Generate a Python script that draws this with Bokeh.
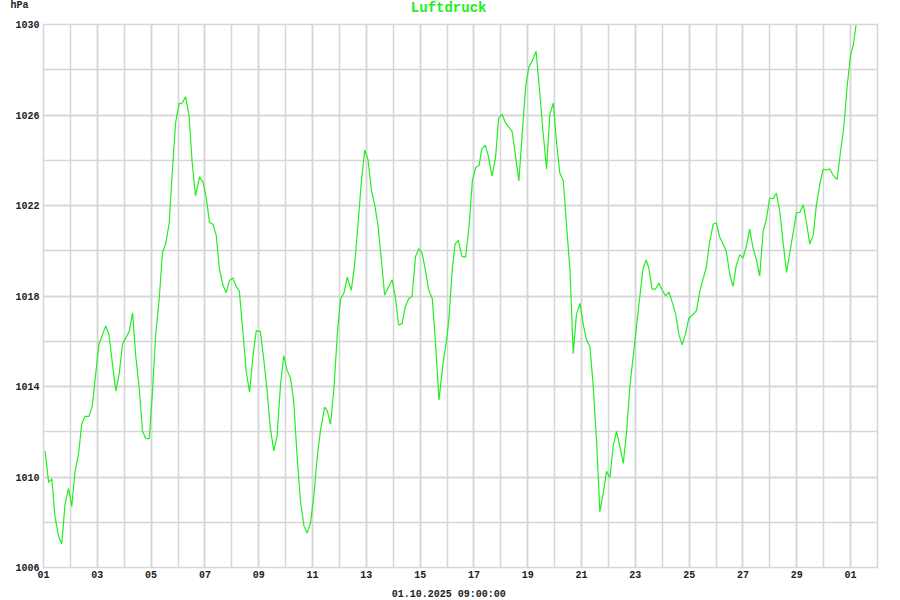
from bokeh.plotting import figure
from bokeh.models import FixedTicker, Label
from bokeh.embed import file_html
from bokeh.resources import INLINE

# time in days since 01.09.2025 00:00, air pressure in hPa
days = [0.06, 0.19, 0.31, 0.43, 0.56, 0.68, 0.80, 0.93, 1.05, 1.17, 1.30, 1.42, 1.54, 1.69, 1.81, 1.94,
        2.06, 2.19, 2.31, 2.43, 2.56, 2.69, 2.81, 2.94, 3.06, 3.19, 3.31, 3.43, 3.56, 3.68, 3.80, 3.93,
        4.05, 4.17, 4.30, 4.42, 4.54, 4.67, 4.79, 4.91, 5.04, 5.16, 5.28, 5.41, 5.53, 5.65, 5.80, 5.93,
        6.05, 6.17, 6.30, 6.42, 6.54, 6.67, 6.79, 6.91, 7.04, 7.16, 7.28, 7.42, 7.54, 7.66, 7.79, 7.91,
        8.06, 8.19, 8.31, 8.43, 8.56, 8.68, 8.81, 8.93, 9.06, 9.18, 9.30, 9.43, 9.55, 9.68, 9.80, 9.93,
        10.05, 10.17, 10.30, 10.45, 10.55, 10.67, 10.80, 10.92, 11.04, 11.17, 11.29, 11.44, 11.57, 11.69,
        11.81, 11.94, 12.06, 12.19, 12.31, 12.43, 12.56, 12.68, 12.81, 12.96, 13.08, 13.20, 13.33, 13.45,
        13.58, 13.70, 13.83, 13.95, 14.07, 14.20, 14.32, 14.45, 14.57, 14.70, 14.85, 14.98, 15.07, 15.20,
        15.30, 15.42, 15.55, 15.69, 15.82, 15.94, 16.07, 16.19, 16.29, 16.42, 16.54, 16.67, 16.80, 16.92,
        17.05, 17.17, 17.30, 17.42, 17.54, 17.67, 17.79, 17.92, 18.04, 18.16, 18.31, 18.44, 18.56, 18.70,
        18.82, 18.95, 19.07, 19.19, 19.32, 19.44, 19.57, 19.69, 19.81, 19.94, 20.06, 20.19, 20.31, 20.43,
        20.56, 20.68, 20.81, 20.93, 21.05, 21.18, 21.30, 21.43, 21.55, 21.67, 21.80, 21.92, 22.05, 22.17,
        22.28, 22.40, 22.50, 22.62, 22.74, 22.88, 23.00, 23.12, 23.25, 23.37, 23.50, 23.62, 23.74, 23.87,
        23.99, 24.12, 24.27, 24.39, 24.51, 24.64, 24.76, 24.89, 25.01, 25.13, 25.26, 25.38, 25.51, 25.63,
        25.75, 25.88, 26.00, 26.13, 26.25, 26.37, 26.50, 26.62, 26.75, 26.87, 26.99, 27.12, 27.24, 27.37,
        27.49, 27.62, 27.74, 27.86, 27.99, 28.11, 28.24, 28.36, 28.48, 28.61, 28.73, 28.86, 28.98, 29.10,
        29.23, 29.35, 29.50, 29.62, 29.75, 29.87, 30.00, 30.10, 30.20]
hpa = [1011.15, 1009.76, 1009.92, 1008.23, 1007.37, 1007.05, 1008.79, 1009.50, 1008.70, 1010.20, 1011.00,
       1012.33, 1012.68, 1012.68, 1013.12, 1014.54, 1015.88, 1016.28, 1016.67, 1016.31, 1015.02, 1013.79,
       1014.54, 1015.88, 1016.15, 1016.44, 1017.26, 1015.33, 1013.91, 1012.02, 1011.70, 1011.70, 1013.75,
       1016.28, 1017.86, 1019.91, 1020.30, 1021.20, 1023.53, 1025.66, 1026.50, 1026.53, 1026.81, 1025.98,
       1023.85, 1022.43, 1023.27, 1023.03, 1022.35, 1021.25, 1021.17, 1020.69, 1019.19, 1018.49, 1018.14,
       1018.69, 1018.80, 1018.41, 1018.22, 1016.28, 1014.62, 1013.75, 1015.41, 1016.47, 1016.44, 1015.17,
       1013.83, 1012.18, 1011.15, 1011.78, 1014.07, 1015.36, 1014.70, 1014.38, 1013.36, 1010.84, 1008.94,
       1007.84, 1007.52, 1008.00, 1009.18, 1010.84, 1012.10, 1013.09, 1012.92, 1012.33, 1013.99, 1016.28,
       1017.86, 1018.14, 1018.83, 1018.25, 1019.43, 1021.17, 1022.98, 1024.45, 1024.04, 1022.67, 1022.03,
       1021.17, 1019.59, 1018.04, 1018.36, 1018.72, 1017.93, 1016.72, 1016.78, 1017.54, 1017.89, 1017.98,
       1019.75, 1020.09, 1019.91, 1019.12, 1018.25, 1017.89, 1015.96, 1013.41, 1015.00, 1016.04, 1016.99,
       1019.27, 1020.30, 1020.46, 1019.75, 1019.72, 1021.09, 1023.09, 1023.69, 1023.77, 1024.48, 1024.67,
       1024.16, 1023.30, 1024.09, 1025.87, 1026.03, 1025.66, 1025.46, 1025.27, 1024.24, 1023.09, 1025.11,
       1027.24, 1028.11, 1028.38, 1028.82, 1027.08, 1025.35, 1023.61, 1026.03, 1026.53, 1024.79, 1023.45,
       1023.09, 1021.17, 1019.12, 1015.46, 1017.19, 1017.67, 1016.75, 1016.04, 1015.77, 1014.07, 1011.55,
       1008.47, 1009.31, 1010.25, 1009.97, 1011.39, 1012.02, 1011.31, 1010.60, 1011.94, 1014.07, 1015.33,
       1016.75, 1018.01, 1019.19, 1019.59, 1019.24, 1018.30, 1018.30, 1018.56, 1018.25, 1018.01, 1018.17,
       1017.73, 1017.19, 1016.28, 1015.84, 1016.36, 1017.03, 1017.15, 1017.35, 1018.17, 1018.72, 1019.27,
       1020.38, 1021.17, 1021.23, 1020.62, 1020.30, 1019.98, 1018.96, 1018.41, 1019.35, 1019.83, 1019.67,
       1020.22, 1020.96, 1020.14, 1019.59, 1018.88, 1020.85, 1021.40, 1022.32, 1022.30, 1022.55, 1021.72,
       1020.38, 1019.04, 1019.91, 1020.77, 1021.69, 1021.69, 1022.03, 1021.25, 1020.30, 1020.69, 1022.03,
       1022.98, 1023.61, 1023.57, 1023.61, 1023.34, 1023.14, 1024.32, 1025.50, 1027.24, 1028.66, 1029.09,
       1029.97]

x_tick_days = list(range(0, 31, 2))
x_tick_labels = ["01", "03", "05", "07", "09", "11", "13", "15", "17", "19", "21", "23", "25", "27", "29", "01"]
x_grid_days = list(range(0, 32))
y_ticks = list(range(1006, 1031, 4))
y_grid = list(range(1006, 1031, 2))

title_text = "Luftdruck"
unit_text = "hPa"
stamp_text = "01.10.2025 09:00:00"

GREEN = "#22ee22"
GRID = "#d6d6d6"
TXT = "#222222"
MONO = "Liberation Mono"

p = figure(width=900, height=600, output_backend="svg", toolbar_location=None,
           x_range=(0, 31), y_range=(1006, 1030),
           min_border_left=43, min_border_right=23, min_border_top=24, min_border_bottom=33,
           title=None)
p.background_fill_color = "white"
p.border_fill_color = "white"
p.outline_line_color = GRID
p.outline_line_width = 1.5

p.xaxis.ticker = FixedTicker(ticks=x_tick_days, minor_ticks=x_grid_days)
p.yaxis.ticker = FixedTicker(ticks=y_ticks, minor_ticks=y_grid)
p.xaxis.major_label_overrides = {d: l for d, l in zip(x_tick_days, x_tick_labels)}
p.yaxis.major_label_overrides = {t: str(t) for t in y_ticks}

for ax in (p.xaxis[0], p.yaxis[0]):
    ax.axis_line_color = None
    ax.major_tick_line_color = None
    ax.minor_tick_line_color = None
    ax.major_tick_out = 0
    ax.major_tick_in = 0
    ax.minor_tick_out = 0
    ax.minor_tick_in = 0
    ax.major_label_text_font = MONO
    ax.major_label_text_font_style = "bold"
    ax.major_label_text_font_size = "10px"
    ax.major_label_text_color = TXT
p.xaxis.major_label_standoff = 3
p.yaxis.major_label_standoff = 4

for g in (p.xgrid[0], p.ygrid[0]):
    g.grid_line_color = GRID
    g.grid_line_width = 1.5
    g.minor_grid_line_color = GRID
    g.minor_grid_line_width = 1.5

p.line(days, hpa, line_color=GREEN, line_width=1.2)

# texts placed in side panels with spare room (so that the frame is not clipped or moved)
p.add_layout(Label(x=15.06, y=1030, y_offset=17, text=title_text,
                   text_font=MONO, text_font_style="bold", text_font_size="14px", text_color=GREEN,
                   text_align="center", text_baseline="middle"), "above")
p.add_layout(Label(x=0, y=1030, x_offset=-33, y_offset=19, text=unit_text,
                   text_font=MONO, text_font_style="bold", text_font_size="10px", text_color=TXT,
                   text_align="left", text_baseline="middle"), "right")
p.add_layout(Label(x=15.06, y=1006, y_offset=-27, text=stamp_text,
                   text_font=MONO, text_font_style="bold", text_font_size="10px", text_color=TXT,
                   text_align="center", text_baseline="middle"), "below")

open("out.html", "w").write(file_html(p, INLINE))
